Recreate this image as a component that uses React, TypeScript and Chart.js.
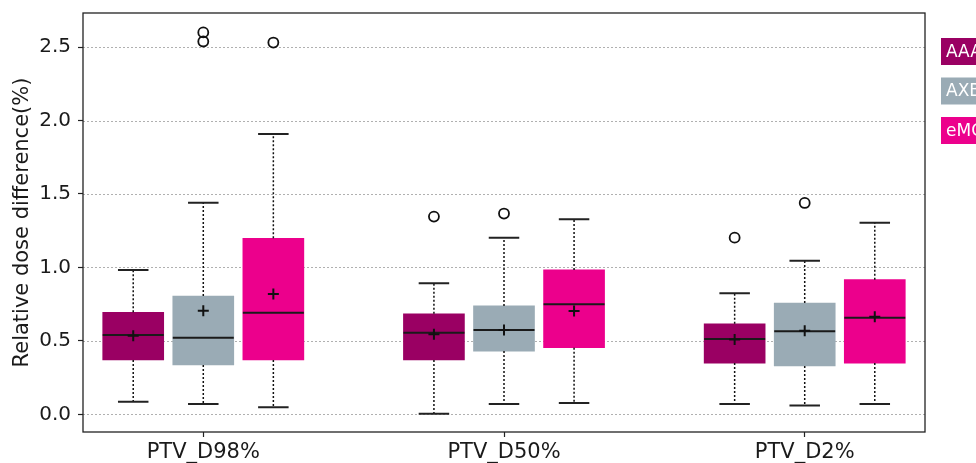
import { useEffect, useRef } from 'react';
import { Chart, registerables } from 'chart.js';

Chart.register(...registerables);

// ---- data ----
const categories = ['PTV_D98%', 'PTV_D50%', 'PTV_D2%'];
const categoryPositions = [1, 2, 3];
const seriesNames = ['AAA', 'AXB', 'eMC'];
const seriesOffsets = [-0.233, 0, 0.233];
const seriesColors = ['#9a0063', '#9aabb5', '#ec008c'];
const yTicks = [0, 0.5, 1.0, 1.5, 2.0, 2.5];

const aaaQ1 = [0.37, 0.37, 0.349];
const aaaMedian = [0.54, 0.556, 0.513];
const aaaQ3 = [0.695, 0.685, 0.617];
const aaaLow = [0.086, 0.004, 0.07];
const aaaHigh = [0.983, 0.892, 0.824];
const aaaMean = [0.535, 0.545, 0.51];
const aaaOutliers = [[], [1.346], [1.203]];

const axbQ1 = [0.336, 0.431, 0.329];
const axbMedian = [0.522, 0.574, 0.565];
const axbQ3 = [0.806, 0.738, 0.758];
const axbLow = [0.07, 0.07, 0.061];
const axbHigh = [1.441, 1.203, 1.046];
const axbMean = [0.706, 0.574, 0.57];
const axbOutliers = [[2.6, 2.538], [1.367], [1.439]];

const emcQ1 = [0.37, 0.454, 0.349];
const emcMedian = [0.692, 0.749, 0.658];
const emcQ3 = [1.199, 0.983, 0.917];
const emcLow = [0.048, 0.077, 0.07];
const emcHigh = [1.909, 1.328, 1.305];
const emcMean = [0.819, 0.704, 0.665];
const emcOutliers: number[][] = [[2.531], [], []];

const series = [
  { q1: aaaQ1, med: aaaMedian, q3: aaaQ3, lo: aaaLow, hi: aaaHigh, mean: aaaMean, out: aaaOutliers },
  { q1: axbQ1, med: axbMedian, q3: axbQ3, lo: axbLow, hi: axbHigh, mean: axbMean, out: axbOutliers },
  { q1: emcQ1, med: emcMedian, q3: emcQ3, lo: emcLow, hi: emcHigh, mean: emcMean, out: emcOutliers },
];

const FONT = "'DejaVu Sans', sans-serif";

const boxPlugin = {
  id: 'boxExtras',
  beforeDatasetsDraw(chart: any) {
    const { ctx, chartArea } = chart;
    const y = chart.scales.y;
    ctx.save();
    ctx.strokeStyle = '#b0b0b0';
    ctx.lineWidth = 1;
    ctx.setLineDash([2, 2]);
    yTicks.forEach((t) => {
      const py = Math.round(y.getPixelForValue(t)) + 0.5;
      ctx.beginPath();
      ctx.moveTo(chartArea.left, py);
      ctx.lineTo(chartArea.right, py);
      ctx.stroke();
    });
    ctx.restore();
  },
  afterDatasetDraw(chart: any, args: any) {
    if (args.index !== 2) return;
    const { ctx } = chart;
    const x = chart.scales.x;
    const y = chart.scales.y;
    ctx.save();
    series.forEach((s, si) => {
      const meta = chart.getDatasetMeta(si);
      categoryPositions.forEach((p, i) => {
        const bar = meta.data[i];
        const w = bar.width;
        const px = x.getPixelForValue(p + seriesOffsets[si]);
        const pq1 = y.getPixelForValue(s.q1[i]);
        const pq3 = y.getPixelForValue(s.q3[i]);
        const plo = y.getPixelForValue(s.lo[i]);
        const phi = y.getPixelForValue(s.hi[i]);
        const pmed = y.getPixelForValue(s.med[i]);
        ctx.strokeStyle = '#111';
        ctx.lineWidth = 1.5;
        ctx.setLineDash([2, 2]);
        ctx.beginPath();
        ctx.moveTo(px, pq3);
        ctx.lineTo(px, phi);
        ctx.moveTo(px, pq1);
        ctx.lineTo(px, plo);
        ctx.stroke();
        ctx.setLineDash([]);
        ctx.lineWidth = 2;
        ctx.strokeStyle = '#222';
        ctx.beginPath();
        ctx.moveTo(px - w / 4, phi);
        ctx.lineTo(px + w / 4, phi);
        ctx.moveTo(px - w / 4, plo);
        ctx.lineTo(px + w / 4, plo);
        ctx.stroke();
        ctx.strokeStyle = '#1a1a1a';
        ctx.lineWidth = 2;
        ctx.beginPath();
        ctx.moveTo(px - w / 2, pmed);
        ctx.lineTo(px + w / 2, pmed);
        ctx.stroke();
      });
    });
    ctx.restore();
  },
  afterDraw(chart: any) {
    const { ctx, chartArea } = chart;
    ctx.save();
    ctx.strokeStyle = '#222';
    ctx.lineWidth = 1.3;
    ctx.strokeRect(chartArea.left, chartArea.top, chartArea.right - chartArea.left, chartArea.bottom - chartArea.top);
    const lx = chartArea.right + 16;
    const top0 = chartArea.top + 25;
    const step = 39.5;
    const h = 27;
    ctx.font = `17px ${FONT}`;
    ctx.textBaseline = 'middle';
    ctx.textAlign = 'left';
    seriesNames.forEach((name, i) => {
      const ty = top0 + i * step;
      ctx.fillStyle = seriesColors[i];
      ctx.fillRect(lx, ty, 60, h);
      ctx.fillStyle = '#ffffff';
      ctx.fillText(name, lx + 5, ty + h / 2 + 1);
    });
    ctx.restore();
  },
};

export default function App() {
  const ref = useRef<HTMLCanvasElement | null>(null);
  useEffect(() => {
    if (!ref.current) return;
    const datasets: any[] = [];
    series.forEach((s, si) => {
      datasets.push({
        type: 'bar',
        label: seriesNames[si],
        data: categoryPositions.map((p, i) => ({ x: p + seriesOffsets[si], y: [s.q1[i], s.q3[i]] })),
        backgroundColor: seriesColors[si],
        borderWidth: 0,
        barThickness: 61,
        grouped: false,
        order: 5 - si,
      });
    });
    const meanPts: any[] = [];
    const outPts: any[] = [];
    series.forEach((s, si) => {
      categoryPositions.forEach((p, i) => {
        meanPts.push({ x: p + seriesOffsets[si], y: s.mean[i] });
        s.out[i].forEach((v) => outPts.push({ x: p + seriesOffsets[si], y: v }));
      });
    });
    datasets.push({
      type: 'scatter',
      label: 'mean',
      data: meanPts,
      pointStyle: 'cross',
      pointRadius: 5.5,
      borderColor: '#111',
      borderWidth: 2,
      order: 1,
    });
    datasets.push({
      type: 'scatter',
      label: 'outliers',
      data: outPts,
      pointStyle: 'circle',
      pointRadius: 5,
      borderColor: '#111',
      backgroundColor: 'rgba(0,0,0,0)',
      borderWidth: 1.8,
      order: 0,
    });

    const chart = new Chart(ref.current, {
      type: 'bar',
      data: { datasets },
      plugins: [boxPlugin],
      options: {
        responsive: false,
        animation: false,
        layout: { padding: { top: 13, right: 51, left: 0, bottom: 0 } },
        plugins: { legend: { display: false }, tooltip: { enabled: false } },
        scales: {
          x: {
            type: 'linear',
            min: 0.6,
            max: 3.4,
            offset: false,
            afterBuildTicks: (scale: any) => {
              scale.ticks = categoryPositions.map((v) => ({ value: v }));
            },
            afterFit: (scale: any) => {
              scale.height = 31;
              scale.paddingLeft = 0;
              scale.paddingRight = 0;
            },
            grid: { offset: false, drawOnChartArea: false, drawTicks: true, tickLength: 5, tickColor: '#222', tickWidth: 1.2 },
            border: { display: false },
            ticks: {
              autoSkip: false,
              maxRotation: 0,
              padding: 3,
              color: '#1a1a1a',
              font: { family: FONT, size: 21 },
              callback: (v: any) => {
                const idx = categoryPositions.indexOf(Number(v));
                return idx >= 0 ? categories[idx] : '';
              },
            },
          },
          y: {
            type: 'linear',
            min: -0.12,
            max: 2.732,
            afterBuildTicks: (scale: any) => {
              scale.ticks = yTicks.map((v) => ({ value: v }));
            },
            afterFit: (scale: any) => {
              scale.width = 83;
              scale.paddingTop = 0;
              scale.paddingBottom = 0;
            },
            grid: { drawOnChartArea: false, drawTicks: true, tickLength: 5, tickColor: '#222', tickWidth: 1.2 },
            border: { display: false },
            title: {
              display: true,
              text: 'Relative dose difference(%)',
              color: '#1a1a1a',
              font: { family: FONT, size: 21 },
              padding: { top: 10, bottom: 0 },
            },
            ticks: {
              padding: 7,
              color: '#1a1a1a',
              font: { family: FONT, size: 20 },
              callback: (v: any) => Number(v).toFixed(1),
            },
          },
        },
      },
    });
    return () => chart.destroy();
  }, []);

  return (
    <div style={{ position: 'fixed', left: 0, top: 0, width: 976, height: 463, background: '#fff' }}>
      <canvas ref={ref} width={976} height={463} />
    </div>
  );
}
